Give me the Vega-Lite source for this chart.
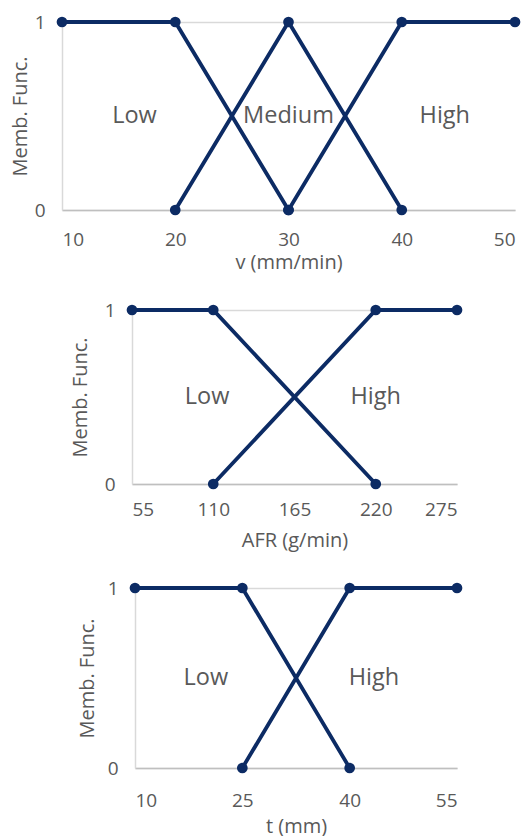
{
  "$schema": "https://vega.github.io/schema/vega-lite/v6.json",
  "padding": {"top": 13, "left": 10, "right": 0, "bottom": 0},
  "spacing": 29,
  "config": {
    "view": {"stroke": null},
    "font": "Open Sans",
    "axis": {
      "labelFont": "Open Sans",
      "titleFont": "Open Sans",
      "labelColor": "#595959",
      "titleColor": "#595959",
      "titleFontWeight": "normal",
      "labelFontSize": 19,
      "titleFontSize": 20,
      "ticks": false,
      "domainColor": "#bfbfbf",
      "domainWidth": 1.5,
      "gridColor": "#d9d9d9",
      "gridWidth": 1.5,
      "format": "d"
    }
  },
  "datasets": {
    "v": [
      {"x": 10, "y": 1, "s": "Low"}, {"x": 20, "y": 1, "s": "Low"}, {"x": 30, "y": 0, "s": "Low"},
      {"x": 20, "y": 0, "s": "Medium"}, {"x": 30, "y": 1, "s": "Medium"}, {"x": 40, "y": 0, "s": "Medium"},
      {"x": 30, "y": 0, "s": "High"}, {"x": 40, "y": 1, "s": "High"}, {"x": 50, "y": 1, "s": "High"}
    ],
    "vlab": [
      {"x": 16.4, "y": 0.5, "t": "Low"}, {"x": 30, "y": 0.5, "t": "Medium"}, {"x": 43.8, "y": 0.5, "t": "High"}
    ],
    "afr": [
      {"x": 55, "y": 1, "s": "Low"}, {"x": 110, "y": 1, "s": "Low"}, {"x": 220, "y": 0, "s": "Low"},
      {"x": 110, "y": 0, "s": "High"}, {"x": 220, "y": 1, "s": "High"}, {"x": 275, "y": 1, "s": "High"}
    ],
    "afrlab": [
      {"x": 105.8, "y": 0.5, "t": "Low"}, {"x": 220, "y": 0.5, "t": "High"}
    ],
    "t": [
      {"x": 10, "y": 1, "s": "Low"}, {"x": 25, "y": 1, "s": "Low"}, {"x": 40, "y": 0, "s": "Low"},
      {"x": 25, "y": 0, "s": "High"}, {"x": 40, "y": 1, "s": "High"}, {"x": 55, "y": 1, "s": "High"}
    ],
    "tlab": [
      {"x": 19.9, "y": 0.5, "t": "Low"}, {"x": 43.4, "y": 0.5, "t": "High"}
    ],
    "empty": []
  },
  "vconcat": [
    {
      "width": 453,
      "height": 188,
      "encoding": {
        "x": {"field": "x", "type": "quantitative", "scale": {"domain": [10, 50], "nice": false},
              "axis": {"values": [10, 20, 30, 40, 50], "grid": false, "title": "v (mm/min)", "labelPadding": 20, "titlePadding": 3}},
        "y": {"field": "y", "type": "quantitative", "scale": {"domain": [0, 1], "nice": false},
              "axis": {"values": [0, 1], "title": "Memb. Func.", "labelPadding": 17, "titlePadding": 4, "domainColor": "#d9d9d9"}}
      },
      "layer": [
        {"data": {"name": "v"}, "mark": {"type": "line", "color": "#0c2b64", "strokeWidth": 3.8}, "encoding": {"detail": {"field": "s"}}},
        {"data": {"name": "v"}, "mark": {"type": "point", "filled": true, "opacity": 1, "color": "#0c2b64", "size": 115}},
        {"data": {"name": "vlab"}, "mark": {"type": "text", "fontSize": 23.5, "color": "#595959", "font": "Open Sans"}, "encoding": {"text": {"field": "t"}}}
      ]
    },
    {
      "spacing": 0,
      "hconcat": [
        {"width": 8, "height": 174, "data": {"name": "empty"}, "mark": {"type": "point"}},
        {
          "width": 325,
          "height": 174,
          "encoding": {
            "x": {"field": "x", "type": "quantitative", "scale": {"domain": [55, 275], "nice": false},
                  "axis": {"values": [55, 110, 165, 220, 275], "grid": false, "title": "AFR (g/min)", "labelPadding": 16, "titlePadding": 11}},
            "y": {"field": "y", "type": "quantitative", "scale": {"domain": [0, 1], "nice": false},
                  "axis": {"values": [0, 1], "title": "Memb. Func.", "labelPadding": 17, "titlePadding": 14, "domainColor": "#d9d9d9"}}
          },
          "layer": [
            {"data": {"name": "afr"}, "mark": {"type": "line", "color": "#0c2b64", "strokeWidth": 3.8}, "encoding": {"detail": {"field": "s"}}},
            {"data": {"name": "afr"}, "mark": {"type": "point", "filled": true, "opacity": 1, "color": "#0c2b64", "size": 115}},
            {"data": {"name": "afrlab"}, "mark": {"type": "text", "fontSize": 23.5, "color": "#595959", "font": "Open Sans"}, "encoding": {"text": {"field": "t"}}}
          ]
        }
      ]
    },
    {
      "spacing": 0,
      "hconcat": [
        {"width": 15, "height": 180, "data": {"name": "empty"}, "mark": {"type": "point"}},
        {
          "width": 322,
          "height": 180,
          "encoding": {
            "x": {"field": "x", "type": "quantitative", "scale": {"domain": [10, 55], "nice": false},
                  "axis": {"values": [10, 25, 40, 55], "grid": false, "title": "t (mm)", "labelPadding": 23, "titlePadding": 6}},
            "y": {"field": "y", "type": "quantitative", "scale": {"domain": [0, 1], "nice": false},
                  "axis": {"values": [0, 1], "title": "Memb. Func.", "labelPadding": 17, "titlePadding": 10, "domainColor": "#d9d9d9"}}
          },
          "layer": [
            {"data": {"name": "t"}, "mark": {"type": "line", "color": "#0c2b64", "strokeWidth": 3.8}, "encoding": {"detail": {"field": "s"}}},
            {"data": {"name": "t"}, "mark": {"type": "point", "filled": true, "opacity": 1, "color": "#0c2b64", "size": 115}},
            {"data": {"name": "tlab"}, "mark": {"type": "text", "fontSize": 23.5, "color": "#595959", "font": "Open Sans"}, "encoding": {"text": {"field": "t"}}}
          ]
        }
      ]
    }
  ]
}
